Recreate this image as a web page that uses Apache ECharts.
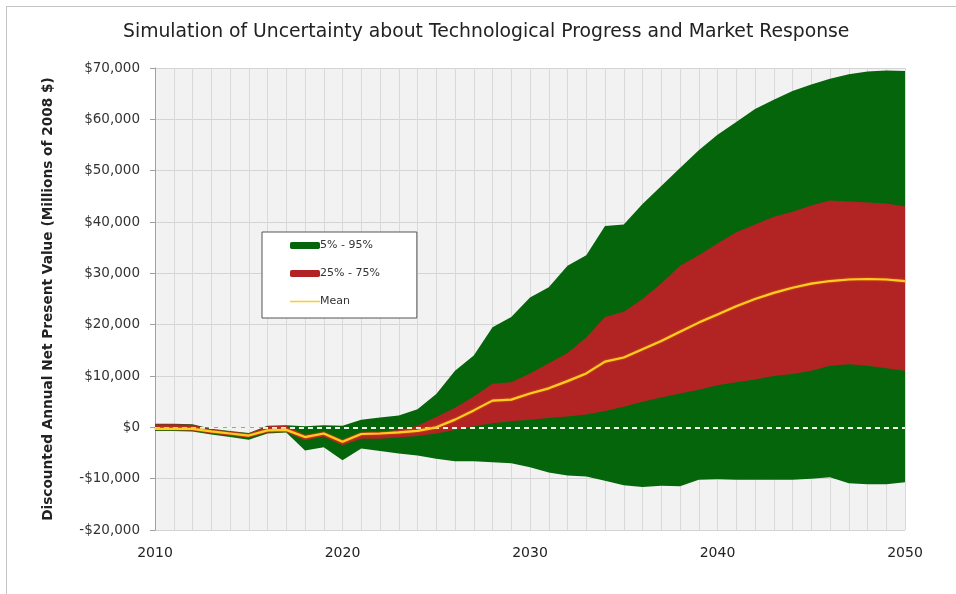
<!DOCTYPE html>
<html>
<head>
<meta charset="utf-8">
<script src="https://cdn.jsdelivr.net/npm/echarts@6/dist/echarts.min.js"></script>
<style>
html,body{margin:0;padding:0;background:#fff;overflow:hidden;}
#frame{position:absolute;left:6px;top:6px;width:970px;height:610px;border:1px solid #c4c4c4;}
#main{position:absolute;left:0;top:0;width:956px;height:594px;}
</style>
</head>
<body>
<div id="frame"></div>
<div id="main"></div>
<script>
// years on the x axis
var years = [2010,2011,2012,2013,2014,2015,2016,2017,2018,2019,
	2020,2021,2022,2023,2024,2025,2026,2027,2028,2029,
	2030,2031,2032,2033,2034,2035,2036,2037,2038,2039,
	2040,2041,2042,2043,2044,2045,2046,2047,2048,2049,2050];
// 5th percentile
var p5 = [-700,-700,-800,-1400,-1900,-2400,-1200,-1000,-4500,-3900,
	-6400,-4100,-4600,-5100,-5500,-6100,-6600,-6600,-6800,-7000,
	-7800,-8800,-9400,-9600,-10400,-11300,-11600,-11400,-11500,-10200,
	-10100,-10200,-10200,-10200,-10200,-10000,-9700,-10900,-11100,-11100,-10700];
// 25th percentile
var p25 = [-500,-500,-600,-1200,-1600,-2000,-1000,-900,-2500,-1800,
	-3500,-2200,-2200,-2000,-1700,-1200,-500,200,800,1200,
	1500,1800,2100,2500,3200,4000,5000,5800,6600,7300,
	8200,8800,9300,10000,10400,11000,12000,12300,12000,11500,11000];
// mean
var mean = [-300,-300,-300,-800,-1200,-1600,-600,-500,-1900,-1200,
	-2800,-1300,-1200,-1000,-700,0,1500,3300,5200,5400,
	6600,7600,9000,10500,12800,13600,15200,16800,18600,20400,
	22000,23600,25000,26200,27200,28000,28500,28800,28900,28800,28500];
// 75th percentile
var p75 = [600,600,500,-400,-800,-1200,200,300,-1500,-900,
	-2400,-1000,-900,-500,300,2000,3800,6000,8500,8800,
	10500,12500,14500,17500,21500,22500,25000,28000,31500,33500,
	35800,38000,39500,41000,42000,43200,44200,44000,43800,43600,43000];
// 95th percentile
var p95 = [700,700,600,-300,-700,-1100,300,400,200,400,
	300,1500,1900,2300,3500,6500,11000,14000,19500,21500,
	25300,27300,31500,33500,39200,39500,43500,47000,50500,54000,
	57000,59500,62000,63800,65500,66800,67900,68800,69300,69500,69400];
var yTicks = [-20000,-10000,0,10000,20000,30000,40000,50000,60000,70000];

var GREEN = '#05650a';
var RED = '#b22424';
var YELLOW = '#ffcc22';

function money(v){
	var s = Math.abs(v).toString().replace(/\B(?=(\d{3})+(?!\d))/g, ',');
	return (v < 0 ? '-$' : '$') + s;
}

var outerBand = p95.map(function(v, i){ return v - p5[i]; });
var innerBand = p75.map(function(v, i){ return v - p25[i]; });

var chart = echarts.init(document.getElementById('main'));
chart.setOption({
	animation: false,
	title: {
		text: 'Simulation of Uncertainty about Technological Progress and Market Response',
		left: 123,
		top: 23,
		padding: 0,
		textStyle: { fontFamily: 'DejaVu Sans', fontSize: 18.8, fontWeight: 'normal', color: '#222' }
	},
	legend: {
		orient: 'vertical',
		left: 262,
		top: 232,
		padding: [8, 37, 11, 28],
		itemGap: 17,
		itemWidth: 30,
		itemHeight: 7,
		backgroundColor: '#fff',
		borderColor: '#555',
		borderWidth: 1,
		textStyle: { fontFamily: 'DejaVu Sans', fontSize: 11, color: '#333', padding: [0, 0, 0, -5] },
		data: [
			{ name: '5% - 95%', icon: 'roundRect' },
			{ name: '25% - 75%', icon: 'roundRect' },
			{
				name: 'Mean',
				icon: 'path://M0,0H0.05V0.05H0Z M0,2.8H30V4.2H0Z M29.95,6.95H30V7H29.95Z',
				itemStyle: { color: YELLOW, borderWidth: 0, opacity: 1 }
			}
		]
	},
	grid: {
		left: 155, right: 51, top: 68, bottom: 64,
		show: true, backgroundColor: '#f2f2f2', borderWidth: 0
	},
	xAxis: {
		type: 'category',
		data: years,
		boundaryGap: false,
		axisLine: { lineStyle: { color: '#a0a0a0' } },
		axisTick: { show: false },
		axisLabel: { interval: 9, margin: 16, fontFamily: 'DejaVu Sans', fontSize: 14, color: '#222' },
		splitLine: { show: true, interval: 0, lineStyle: { color: '#d9d9d9' } }
	},
	yAxis: {
		type: 'value',
		min: yTicks[0],
		max: yTicks[yTicks.length - 1],
		interval: 10000,
		name: 'Discounted Annual Net Present Value (Millions of 2008 $)',
		nameLocation: 'middle',
		nameGap: 100,
		nameTextStyle: { fontFamily: 'DejaVu Sans', fontSize: 13.7, fontWeight: 'bold', color: '#222' },
		axisLine: { show: true, lineStyle: { color: '#a0a0a0' } },
		axisTick: { show: true, length: 5, lineStyle: { color: '#a0a0a0' } },
		axisLabel: { margin: 15, fontFamily: 'DejaVu Sans', fontSize: 13.5, color: '#333', formatter: money },
		splitLine: { lineStyle: { color: '#d4d4d4' } }
	},
	series: [
		{
			name: 'p5base', type: 'line', stack: 'outer', stackStrategy: 'all',
			data: p5, symbol: 'none', lineStyle: { width: 0 }, silent: true
		},
		{
			name: '5% - 95%', type: 'line', stack: 'outer', stackStrategy: 'all',
			data: outerBand, symbol: 'none',
			itemStyle: { color: GREEN },
			lineStyle: { width: 0 },
			areaStyle: { color: GREEN, opacity: 1 }
		},
		{
			name: 'p25base', type: 'line', stack: 'inner', stackStrategy: 'all',
			data: p25, symbol: 'none', lineStyle: { width: 0 }, silent: true
		},
		{
			name: '25% - 75%', type: 'line', stack: 'inner', stackStrategy: 'all',
			data: innerBand, symbol: 'none',
			itemStyle: { color: RED },
			lineStyle: { width: 0 },
			areaStyle: { color: RED, opacity: 1 },
			markLine: {
				silent: true, symbol: 'none', label: { show: false },
				lineStyle: { color: '#f0f4ea', type: [5, 4], width: 2 },
				data: [{ yAxis: 0 }]
			}
		},
		{
			name: 'Mean', type: 'line', data: mean, symbol: 'none', z: 5,
			itemStyle: { color: YELLOW },
			lineStyle: { color: YELLOW, width: 2.2, shadowColor: '#e06a00', shadowBlur: 2 }
		}
	]
});
</script>
</body>
</html>
